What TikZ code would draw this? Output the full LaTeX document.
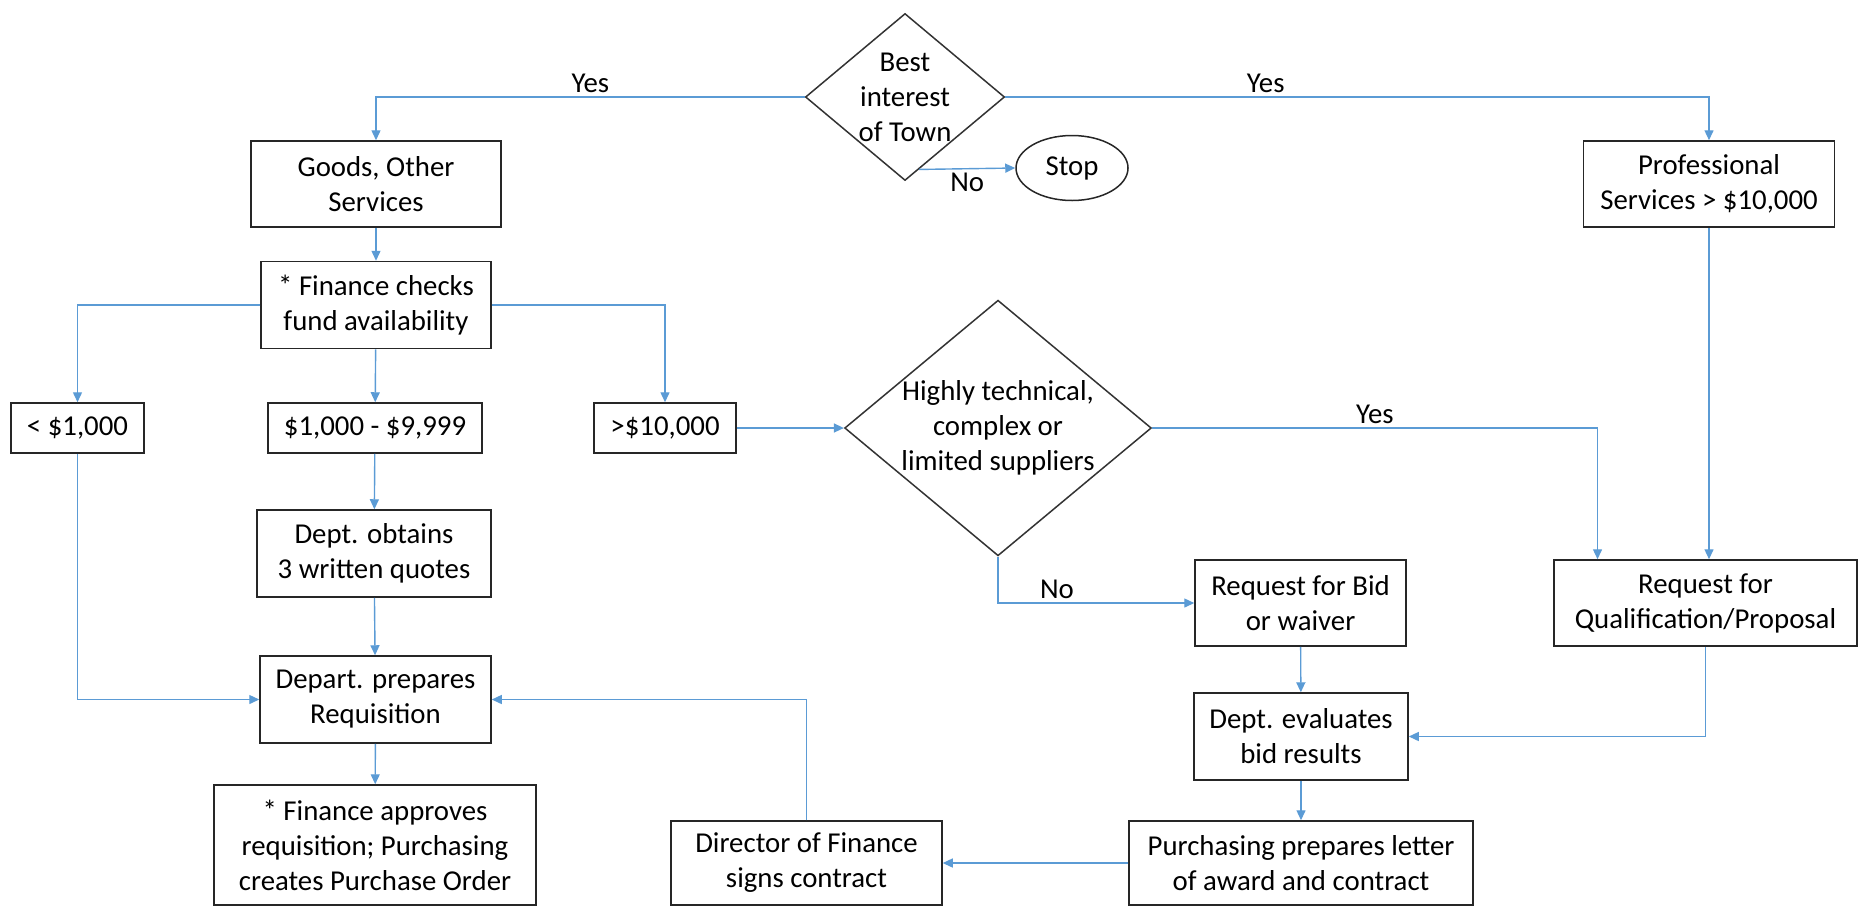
\documentclass[tikz,border=0pt]{standalone}
\usepackage{fontspec}
\setmainfont{Carlito}
\usetikzlibrary{arrows.meta, shapes.geometric}
\definecolor{linjeblaa}{RGB}{91,155,213}

\begin{document}
\begin{tikzpicture}[
    x=0.5pt, y=-0.5pt,
    every node/.style={font=\fontsize{14.4}{17.5}\selectfont, inner sep=3pt},
    boks/.style={rectangle, draw=black!85, line width=0.75pt, align=center},
    valg/.style={diamond, aspect=1.2, draw=black!80, line width=0.75pt,
        align=center, inner sep=0pt},
    pil/.style={draw=linjeblaa, line width=0.7pt,
        -{Triangle[length=5pt, width=4.5pt]}},
    svar/.style={inner sep=2pt}
    ]
\useasboundingbox (0,0) rectangle (1866,906);

%Top decision
\node[valg, minimum width=96.5pt, minimum height=83.5pt] (best) at (905,97)
    {Best\\interest\\of Town};
\node[ellipse, draw=black!85, line width=0.75pt, minimum width=56pt,
    minimum height=32.5pt, inner sep=0pt] (stop) at (1072,168) {Stop};
\node[boks, minimum width=125pt, minimum height=43pt] (goods) at (376,184)
    {Goods, Other\\Services};
\node[boks, minimum width=125.5pt, minimum height=43pt] (prof) at (1709,184)
    {Professional\\Services > \$10,000};

%Left column
\node[boks, minimum width=115pt, minimum height=43.5pt] (fincheck) at (376,305)
    {* Finance checks\\fund availability};
\node[boks, minimum width=66.5pt, minimum height=25pt] (lt1k) at (77.5,428)
    {< \$1,000};
\node[boks, minimum width=107pt, minimum height=25pt] (mid) at (375,428)
    {\$1,000 - \$9,999};
\node[boks, minimum width=71pt, minimum height=25pt] (gt10k) at (665,428)
    {>\$10,000};
\node[boks, minimum width=117pt, minimum height=43.5pt] (quotes) at (374,553.5)
    {Dept. obtains\\3 written quotes};
\node[boks, minimum width=115.5pt, minimum height=43.5pt] (reqn) at (375.5,699.5)
    {Depart. prepares\\Requisition};
\node[boks, minimum width=161pt, minimum height=60pt] (approve) at (375,845)
    {* Finance approves\\requisition; Purchasing\\creates Purchase Order};

%Right part
\node[valg, minimum width=152.5pt, minimum height=125.5pt] (tech) at (998,428)
    {Highly technical,\\complex or\\limited suppliers};
\node[boks, minimum width=105.5pt, minimum height=43pt] (bid) at (1300.5,603)
    {Request for Bid\\or waiver};
\node[boks, minimum width=151.5pt, minimum height=43pt] (qual) at (1705.5,603)
    {Request for\\Qualification/Proposal};
\node[boks, minimum width=107pt, minimum height=43.5pt] (evalb) at (1301,736.5)
    {Dept. evaluates\\bid results};
\node[boks, minimum width=172pt, minimum height=42pt] (purch) at (1301,863)
    {Purchasing prepares letter\\of award and contract};
\node[boks, minimum width=135.5pt, minimum height=42pt] (director) at (806.5,863)
    {Director of Finance\\signs contract};

%Connectors
\draw[pil] (best.west) -| (goods.north)
    node[svar, above, pos=0.25] {Yes};
\draw[pil] (best.east) -| (prof.north)
    node[svar, above, pos=0.185] {Yes};
\draw[pil] (best.-79) -- (stop.west)
    node[svar, below, pos=0.5] {No};
\draw[pil] (goods) -- (fincheck);
\draw[pil] (fincheck.west) -| (lt1k.north);
\draw[pil] (fincheck) -- (mid);
\draw[pil] (fincheck.east) -| (gt10k.north);
\draw[pil] (gt10k) -- (tech);
\draw[pil] (tech.east) -| ([xshift=-54pt]qual.north)
    node[svar, above, pos=0.25] {Yes};
\draw[pil] (prof.south) -- (prof.south |- qual.north);
\draw[pil] (tech.south) |- (bid.west)
    node[svar, above, pos=0.65] {No};
\draw[pil] (bid) -- (evalb);
\draw[pil] (qual.south) |- (evalb.east);
\draw[pil] (evalb) -- (purch);
\draw[pil] (purch) -- (director);
\draw[pil] (director.north) |- (reqn.east);
\draw[pil] (mid) -- (quotes);
\draw[pil] (quotes) -- (reqn);
\draw[pil] (lt1k.south) |- (reqn.west);
\draw[pil] (reqn) -- (approve);
\end{tikzpicture}
\end{document}
